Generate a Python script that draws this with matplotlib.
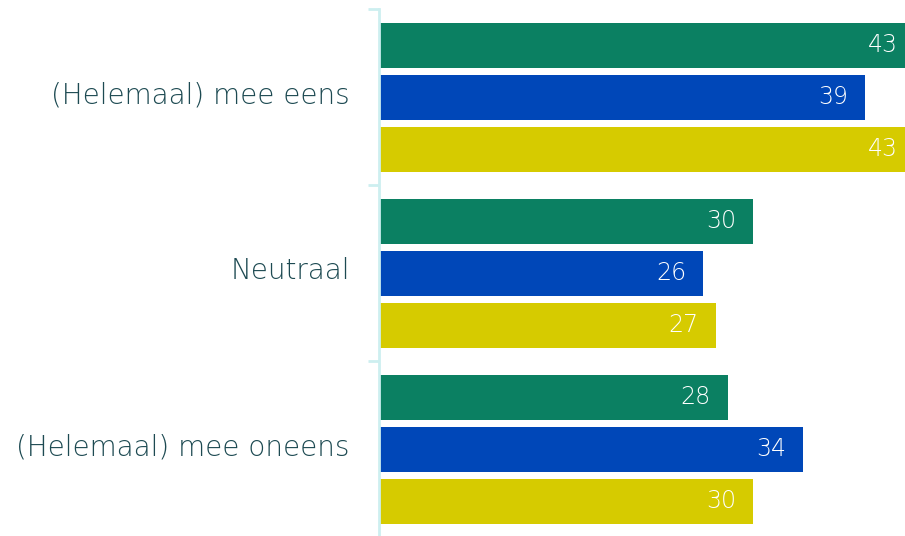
import matplotlib
matplotlib.use("Agg")
import matplotlib.pyplot as plt
import matplotlib.transforms as mtransforms
import numpy as np

categories = ["(Helemaal) mee eens", "Neutraal", "(Helemaal) mee oneens"]
series_green = [43, 30, 28]
series_blue = [39, 26, 34]
series_yellow = [43, 27, 30]

colors = ["#0b8062", "#0047b8", "#d6cb00"]
label_color = "#1d4a52"
axis_color = "#cdeff0"

plt.rcParams['font.family'] = ['DejaVu Sans']

fig = plt.figure(figsize=(9.05, 5.36), dpi=100)
ax = fig.add_axes([379 / 905, -1 / 536, 1 - 379 / 905, 528 / 536])

y = np.arange(len(categories))
pitch = 52 / 176
height = 45 / 176

for i, (vals, c) in enumerate(zip([series_green, series_blue, series_yellow], colors)):
    pos = y + (i - 1) * pitch
    bars = ax.barh(pos, vals, height=height, color=c, linewidth=0)
    for b, v in zip(bars, vals):
        ax.text(v - 1.36, b.get_y() + b.get_height() / 2, str(v),
                ha='right', va='center', color='white', fontsize=17,
                fontweight='light', clip_on=False)

ax.set_xlim(0, 42.2)
ax.set_ylim(2.5, -0.5)
ax.set_yticks(y)
ax.set_yticklabels(categories, fontsize=20, color=label_color, fontweight='light')
ax.set_yticks([-0.5, 0.5, 1.5], minor=True)
ax.tick_params(axis='y', which='major', length=0, pad=21)
ax.tick_params(axis='y', which='minor', length=8, width=2, color=axis_color)
ax.set_xticks([])
# nudge category labels up a little
shift = mtransforms.ScaledTranslation(0, 5 / 100, fig.dpi_scale_trans)
for lbl in ax.get_yticklabels():
    lbl.set_transform(lbl.get_transform() + shift)
for s in ['top', 'right', 'bottom']:
    ax.spines[s].set_visible(False)
ax.spines['left'].set_color(axis_color)
ax.spines['left'].set_linewidth(2)

fig.savefig("out.png", dpi=100)
